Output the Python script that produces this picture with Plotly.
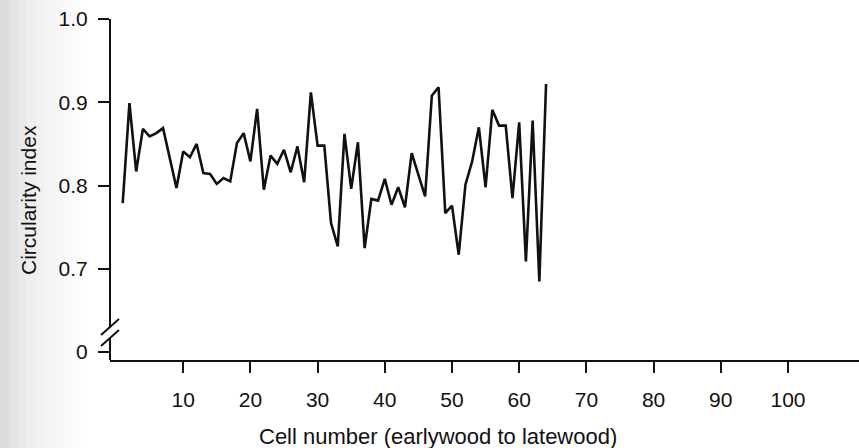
import plotly.graph_objects as go

# Circularity index of successive cells across one growth ring
cells = list(range(1, 65))
circularity = [
    0.779, 0.899, 0.817, 0.868, 0.859, 0.863, 0.869, 0.833, 0.797, 0.841,
    0.834, 0.850, 0.815, 0.814, 0.802, 0.809, 0.805, 0.851, 0.863, 0.829,
    0.892, 0.795, 0.836, 0.826, 0.843, 0.816, 0.847, 0.804, 0.912, 0.848,
    0.848, 0.755, 0.727, 0.862, 0.796, 0.852, 0.725, 0.784, 0.782, 0.808,
    0.777, 0.798, 0.774, 0.839, 0.813, 0.787, 0.908, 0.918, 0.767, 0.776,
    0.717, 0.801, 0.829, 0.870, 0.798, 0.891, 0.872, 0.872, 0.785, 0.876,
    0.709, 0.878, 0.685, 0.922,
]

x_tick_vals = [10, 20, 30, 40, 50, 60, 70, 80, 90, 100]
# broken y axis: the "0" tick sits just below the break
y_tick_vals = [0.6003, 0.7, 0.8, 0.9, 1.0]
y_tick_text = ["0", "0.7", "0.8", "0.9", "1.0"]

X_RANGE = [-0.893, 110.57]
Y_RANGE = [0.5906, 1.0]
BREAK_UPPER = 0.6303
BREAK_LOWER = 0.6170

INK = "#111111"
FONT = "Liberation Sans"

fig = go.Figure()
fig.add_trace(go.Scatter(
    x=cells, y=circularity, mode="lines",
    line=dict(color=INK, width=2.6),
    hoverinfo="skip", showlegend=False,
))

shapes = []

# grey haze along the left edge of the page
haze = [0.30, 0.24, 0.19, 0.15, 0.12, 0.09, 0.07, 0.05, 0.03]
band = 9
for i, a in enumerate(haze):
    shapes.append(dict(
        type="rect", layer="below", line=dict(width=0),
        fillcolor=f"rgba(140,140,140,{a})",
        xref="paper", xsizemode="pixel", xanchor=0,
        x0=-110 + i * band, x1=-110 + (i + 1) * band,
        yref="paper", y0=-0.3, y1=1.1,
    ))

# y axis drawn in two pieces around the break
axis_line = dict(color=INK, width=2)
shapes.append(dict(type="line", xref="paper", yref="y", x0=0, x1=0,
                   y0=Y_RANGE[1], y1=BREAK_UPPER, line=axis_line))
shapes.append(dict(type="line", xref="paper", yref="y", x0=0, x1=0,
                   y0=BREAK_LOWER, y1=Y_RANGE[0], line=axis_line))
for anchor in (BREAK_UPPER, BREAK_LOWER):
    shapes.append(dict(
        type="line", line=dict(color=INK, width=2),
        xref="paper", xsizemode="pixel", xanchor=0, x0=-9, x1=9,
        yref="y", ysizemode="pixel", yanchor=anchor, y0=-8, y1=8,
    ))

fig.update_layout(
    width=859, height=448,
    margin=dict(l=110, r=0, t=19, b=88),
    paper_bgcolor="white", plot_bgcolor="white",
    font=dict(family=FONT, color=INK, size=21),
    shapes=shapes,
    xaxis=dict(
        range=X_RANGE, showgrid=False, zeroline=False,
        showline=True, linecolor=INK, linewidth=2,
        ticks="outside", ticklen=11, tickwidth=2, tickcolor=INK,
        tickvals=x_tick_vals, ticklabelstandoff=9,
        tickfont=dict(family=FONT, size=21, color=INK),
    ),
    yaxis=dict(
        range=Y_RANGE, showgrid=False, zeroline=False, showline=False,
        ticks="outside", ticklen=11, tickwidth=2, tickcolor=INK,
        tickvals=y_tick_vals, ticktext=y_tick_text, ticklabelstandoff=6,
        tickfont=dict(family=FONT, size=21, color=INK),
    ),
    annotations=[
        dict(text="Cell number (earlywood to latewood)", xref="paper", yref="paper",
             x=(438 - 110) / 749, y=-(436 - 360) / 341, xanchor="center", yanchor="middle",
             showarrow=False, font=dict(family=FONT, size=22, color=INK)),
        dict(text="Circularity index", xref="paper", yref="paper",
             x=-(110 - 28) / 749, y=(360 - 200) / 341, xanchor="center", yanchor="middle",
             textangle=-90, showarrow=False, font=dict(family=FONT, size=21, color=INK)),
    ],
)

fig.write_html("out.html")
